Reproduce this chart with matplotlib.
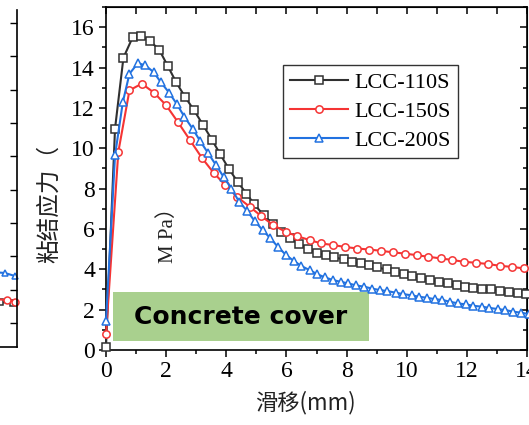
import numpy as np
import matplotlib.pyplot as plt
from matplotlib.ticker import MultipleLocator
from matplotlib.patches import Rectangle

# LCC-110S
x110 = [0, 0.3, 0.58, 0.89, 1.17, 1.47, 1.77, 2.06, 2.33, 2.63, 2.93, 3.22, 3.52, 3.8, 4.08,
        4.38, 4.67, 4.93, 5.24, 5.56, 5.82, 6.13, 6.43, 6.71, 7.0, 7.3, 7.58, 7.91, 8.19, 8.47,
        8.74, 9.02, 9.33, 9.61, 9.91, 10.19, 10.47, 10.78, 11.06, 11.36, 11.66, 11.93, 12.22,
        12.52, 12.8, 13.11, 13.41, 13.69, 13.97]
y110 = [0.15, 10.97, 14.49, 15.51, 15.54, 15.31, 14.88, 14.06, 13.28, 12.54, 11.88, 11.17, 10.43,
        9.70, 8.99, 8.33, 7.75, 7.23, 6.68, 6.24, 5.86, 5.53, 5.25, 5.03, 4.83, 4.70, 4.59, 4.49,
        4.37, 4.29, 4.21, 4.09, 3.99, 3.88, 3.76, 3.66, 3.58, 3.47, 3.38, 3.30, 3.22, 3.14, 3.09,
        3.04, 3.0, 2.94, 2.87, 2.81, 2.76]

# LCC-150S
x150 = [0, 0.41, 0.78, 1.19, 1.6, 2.0, 2.39, 2.78, 3.19, 3.58, 3.97, 4.36, 4.78, 5.17, 5.56,
        5.97, 6.36, 6.77, 7.16, 7.56, 7.94, 8.36, 8.74, 9.13, 9.54, 9.93, 10.33, 10.72, 11.13,
        11.52, 11.91, 12.32, 12.71, 13.11, 13.5, 13.91]
y150 = [0.78, 9.82, 12.87, 13.2, 12.75, 12.13, 11.30, 10.43, 9.52, 8.78, 8.17, 7.59, 7.10, 6.63,
        6.19, 5.86, 5.64, 5.45, 5.28, 5.20, 5.11, 5.03, 4.98, 4.92, 4.84, 4.78, 4.70, 4.62, 4.54,
        4.46, 4.37, 4.32, 4.26, 4.17, 4.12, 4.04]

# LCC-200S
x200 = [0, 0.3, 0.56, 0.78, 1.06, 1.3, 1.58, 1.82, 2.1, 2.36, 2.61, 2.88, 3.13, 3.39, 3.66, 3.91,
        4.17, 4.43, 4.69, 4.94, 5.21, 5.47, 5.72, 5.99, 6.24, 6.5, 6.77, 7.02, 7.28, 7.54, 7.8,
        8.06, 8.32, 8.58, 8.86, 9.11, 9.36, 9.63, 9.89, 10.16, 10.41, 10.67, 10.93, 11.19, 11.44,
        11.71, 11.97, 12.22, 12.49, 12.74, 13.02, 13.28, 13.54, 13.8, 14.06]
y200 = [1.45, 9.64, 12.29, 13.69, 14.22, 14.11, 13.78, 13.28, 12.75, 12.18, 11.55, 10.97, 10.36,
        9.77, 9.16, 8.58, 8.0, 7.34, 6.9, 6.40, 5.94, 5.53, 5.11, 4.70, 4.42, 4.16, 3.96, 3.76,
        3.60, 3.47, 3.38, 3.30, 3.20, 3.14, 3.04, 2.97, 2.92, 2.84, 2.77, 2.71, 2.64, 2.59, 2.52,
        2.48, 2.39, 2.31, 2.26, 2.19, 2.15, 2.09, 2.03, 1.98, 1.90, 1.85, 1.78]

# tail of the neighbouring (cut-off) panel
xl110 = [12.9, 13.43, 13.87]
yl110 = [0.66, 0.63, 0.60]
xl150 = [12.9, 13.67, 13.93]
yl150 = [0.74, 0.69, 0.63]
xl200 = [12.9, 13.6, 13.93]
yl200 = [1.55, 1.50, 1.41]

labels = ['LCC-110S', 'LCC-150S', 'LCC-200S']
colors = ['#303030', '#f53434', '#2272e0']
markers = ['s', 'o', '^']

W, H = 529, 425
fig = plt.figure(figsize=(W / 100, H / 100), dpi=100)
serif = ['Liberation Serif', 'Noto Sans CJK SC']

def box(l, r, b, t):
    return [l / W, 1 - b / H, (r - l) / W, (b - t) / H]

# left, cut-off panel
axl = fig.add_axes(box(-404, 17, 347, 10))
for xs, ys, c, m in zip([xl110, xl150, xl200], [yl110, yl150, yl200], colors, markers):
    axl.plot(xs, ys, color=c, marker=m, ms=5, mfc='white', mec=c, mew=1.1, lw=1.5, clip_on=False)
axl.set_xlim(0, 14)
axl.set_ylim(-0.72, 9.39)
axl.yaxis.set_major_locator(MultipleLocator(1))
axl.tick_params(axis='y', left=False, right=True, labelleft=False, direction='in', length=5, width=1)
axl.tick_params(axis='x', bottom=False, labelbottom=False)
axl.spines['top'].set_visible(False)
for s in axl.spines.values():
    s.set_linewidth(1.2)

# main panel
ax = fig.add_axes(box(106, 527, 350, 7))
for xs, ys, lab, c, m in zip([x110, x150, x200], [y110, y150, y200], labels, colors, markers):
    ax.plot(xs, ys, color=c, marker=m, ms=5.3, mfc='white', mec=c, mew=1.1, lw=1.5,
            label=lab, clip_on=False, zorder=3)

ax.set_xlim(0, 14)
ax.set_ylim(0, 17)
ax.xaxis.set_major_locator(MultipleLocator(2))
ax.xaxis.set_minor_locator(MultipleLocator(1))
ax.yaxis.set_major_locator(MultipleLocator(2))
ax.yaxis.set_minor_locator(MultipleLocator(1))
ax.tick_params(which='major', direction='out', length=5, width=1.1, pad=3, labelsize=17)
ax.tick_params(which='minor', direction='out', length=3, width=1.1)
for t in ax.get_xticklabels() + ax.get_yticklabels():
    t.set_family(serif)
for s in ax.spines.values():
    s.set_linewidth(1.2)

secy = ax.secondary_yaxis('right')
secy.yaxis.set_major_locator(MultipleLocator(2))
secy.yaxis.set_minor_locator(MultipleLocator(1))
secy.tick_params(which='major', direction='in', length=5, width=1.1, labelright=False)
secy.tick_params(which='minor', direction='in', length=3, width=1.1)
secx = ax.secondary_xaxis('top')
secx.xaxis.set_major_locator(MultipleLocator(2))
secx.xaxis.set_minor_locator(MultipleLocator(1))
secx.tick_params(which='major', direction='in', length=5, width=1.1, labeltop=False)
secx.tick_params(which='minor', direction='in', length=5, width=1.1)

ax.add_patch(Rectangle((0.23, 0.45), 8.5, 2.42, facecolor='#a9d08e', edgecolor='none', zorder=2))
ax.text(0.23 + 8.5 / 2, 0.45 + 2.42 / 2, 'Concrete cover', ha='center', va='center',
        fontsize=18, fontweight='bold', family='DejaVu Sans', color='black', zorder=4)

leg = ax.legend(loc='upper left', bbox_to_anchor=(0.42, 0.831), prop={'family': serif, 'size': 16},
                frameon=True, fancybox=False, edgecolor='#333333', framealpha=1,
                handlelength=2.6, handletextpad=0.3, labelspacing=0.38, borderpad=0.32,
                borderaxespad=0)
leg.get_frame().set_linewidth(1.0)

fig.text(50 / W, 1 - 263 / H, '粘结应力（', rotation=90, rotation_mode='anchor',
         ha='left', va='center', fontsize=17, family=['Noto Sans CJK SC'], color='#222222')
fig.text(168 / W, 1 - 263 / H, 'M Pa）', rotation=90, rotation_mode='anchor',
         ha='left', va='center', fontsize=15, family=serif, color='#222222')
fig.text(305 / W, 1 - 403 / H, '滑移(mm)', ha='center', va='center', fontsize=16,
         family=['Noto Sans CJK SC', 'DejaVu Sans'], color='#222222')

fig.savefig('out.png', dpi=100)
